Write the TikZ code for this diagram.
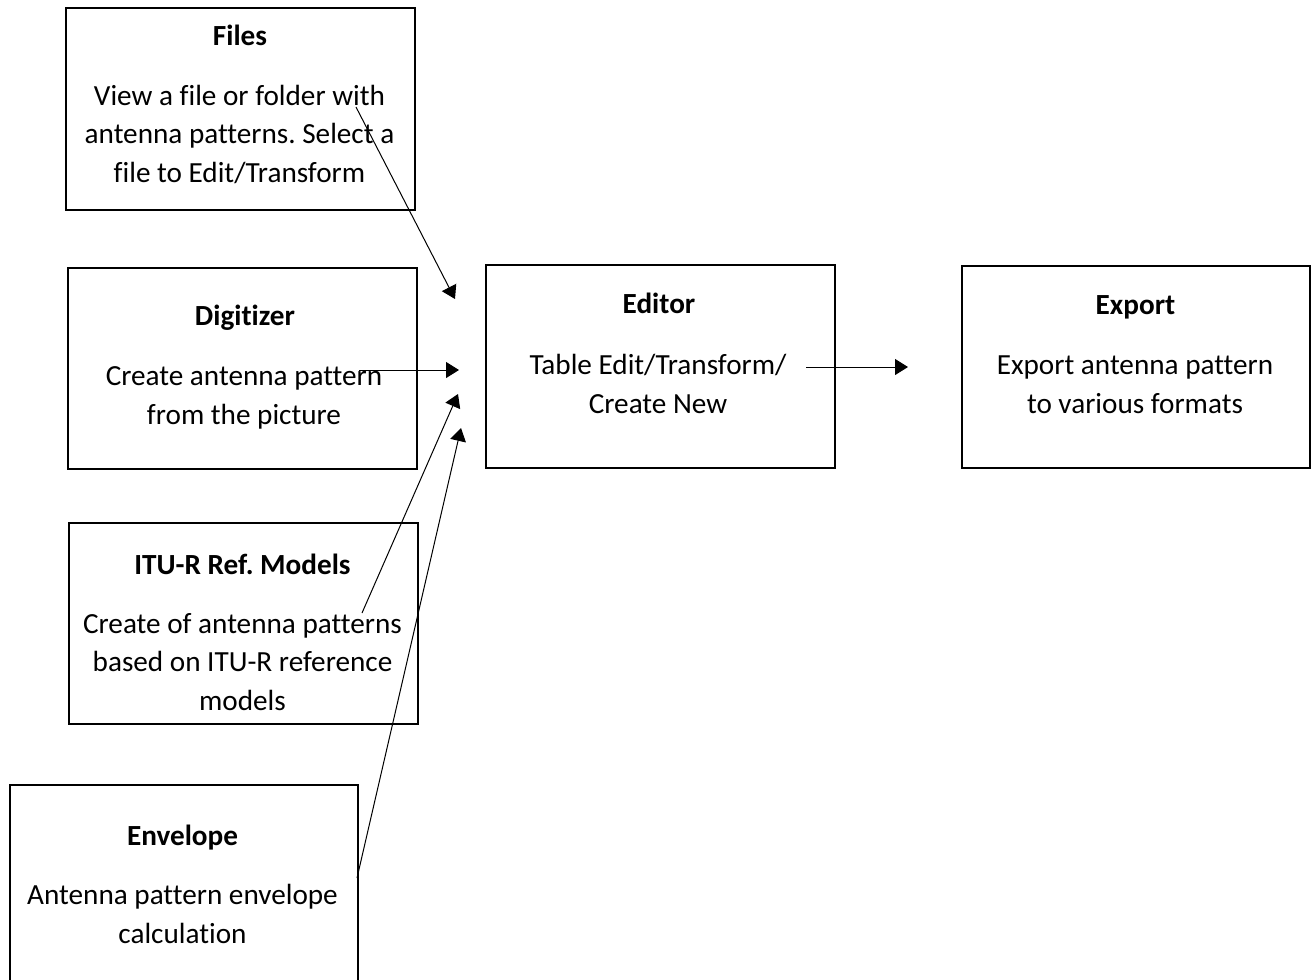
\documentclass[tikz,border=0pt]{standalone}
\usepackage{fontspec}
\setmainfont{Carlito}[Ligatures=NoCommon]
\usetikzlibrary{arrows.meta}
\frenchspacing
\begin{document}
\begin{tikzpicture}[x=0.5pt,y=-0.5pt,
  boxnode/.style={draw=black,line width=1.2pt,inner sep=0pt,anchor=north west},
  titletext/.style={anchor=base,inner sep=0pt,font=\fontsize{14.6pt}{19.25pt}\selectfont\bfseries},
  bodytext/.style={anchor=base,inner sep=0pt,align=center,font=\fontsize{14.6pt}{19.25pt}\selectfont},
  conn/.style={line width=0.5pt,-{Triangle[length=6.5pt,width=8pt]}}]
\clip (0,0) rectangle (1314,980);
% boxes
\node[boxnode,minimum width=174.5pt,minimum height=101pt] (files) at (65,7) {};
\node[boxnode,minimum width=174.5pt,minimum height=100.5pt] (digi) at (67,267) {};
\node[boxnode,minimum width=174.5pt,minimum height=100.5pt] (itu) at (68,522) {};
\node[boxnode,minimum width=174pt,minimum height=104pt] (env) at (9,784) {};
\node[boxnode,minimum width=174.5pt,minimum height=101.5pt] (editor) at (485,264) {};
\node[boxnode,minimum width=174pt,minimum height=101pt] (export) at (961,265) {};
% texts (body nodes anchored at the baseline of their last line)
\node[titletext] (filesT) at (240,45) {Files};
\node[bodytext] (filesB) at (239.5,182) {View a file or folder with\\antenna patterns. Select a\\file to Edit/Transform};
\node[titletext] (digiT) at (245,325) {Digitizer};
\node[bodytext] (digiB) at (244,424) {Create antenna pattern\\from the picture};
\node[titletext] (ituT) at (242.5,574) {ITU-R Ref. Models};
\node[bodytext] (ituB) at (242.5,710) {Create of antenna patterns\\based on ITU-R reference\\models};
\node[titletext] (envT) at (182.5,845) {Envelope};
\node[bodytext] (envB) at (182.5,943) {Antenna pattern envelope\\calculation};
\node[titletext] (editorT) at (659,313) {Editor};
\node[bodytext] (editorB) at (658,413) {Table Edit/Transform/\\Create New};
\node[titletext] (exportT) at (1135.5,314) {Export};
\node[bodytext] (exportB) at (1135,413) {Export antenna pattern\\to various formats};
% connector end points
\coordinate (fS) at (356,107);
\coordinate (fE) at (455,299);
\coordinate (dS) at (359,370);
\coordinate (dE) at (459,370);
\coordinate (iS) at (362,613);
\coordinate (iE) at (458,394);
\coordinate (eS) at (357,878);
\coordinate (eE) at (461,428);
\coordinate (xS) at (806,367);
\coordinate (xE) at (908,367);
\draw[conn] (fS) -- (fE);
\draw[conn] (dS) -- (dE);
\draw[conn] (iS) -- (iE);
\draw[conn] (eS) -- (eE);
\draw[conn] (xS) -- (xE);
\end{tikzpicture}
\end{document}
